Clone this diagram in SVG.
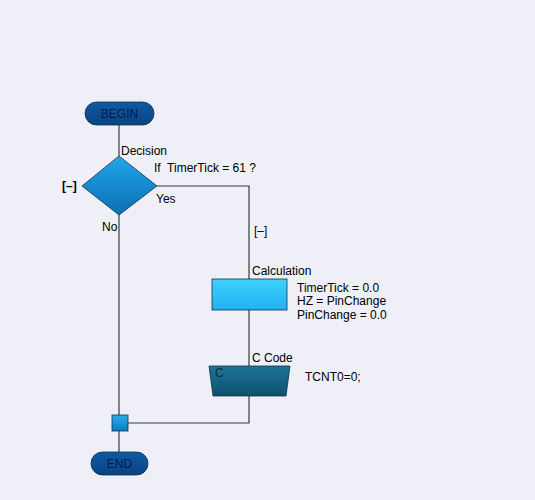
<svg xmlns="http://www.w3.org/2000/svg" width="535" height="500" viewBox="0 0 535 500">
<style>
text{font-family:"Liberation Sans",Arial,sans-serif;font-size:12px;fill:#000}
.term{fill:#001a4d;font-size:12px}
.conn{fill:none;stroke:#3a3a3a;stroke-width:1.2}
.outl{stroke:#15304a;stroke-width:0.8}
</style>
<defs>
<linearGradient id="gTerm" x1="0" y1="0" x2="0" y2="1"><stop offset="0" stop-color="#0e5aa6"/><stop offset="1" stop-color="#0a437f"/></linearGradient>
<linearGradient id="gDia" x1="0" y1="0" x2="0" y2="1"><stop offset="0" stop-color="#22a6ea"/><stop offset="1" stop-color="#0b6fb5"/></linearGradient>
<linearGradient id="gCalc" x1="0" y1="0" x2="0" y2="1"><stop offset="0" stop-color="#40d0fc"/><stop offset="1" stop-color="#1fb2ef"/></linearGradient>
<linearGradient id="gC" x1="0" y1="0" x2="0" y2="1"><stop offset="0" stop-color="#1d7496"/><stop offset="1" stop-color="#0c5270"/></linearGradient>
<linearGradient id="gJ" x1="0" y1="0" x2="0" y2="1"><stop offset="0" stop-color="#28acee"/><stop offset="1" stop-color="#0c7cc4"/></linearGradient>
</defs>
<rect width="535" height="500" fill="#eeeff7"/>
<g id="connectors">
<path class="conn" d="M119 125 V156"/>
<path class="conn" d="M119 215 V415"/>
<path class="conn" d="M119 431 V452"/>
<path class="conn" d="M157 186 H249 V279"/>
<path class="conn" d="M249 310 V366"/>
<path class="conn" d="M249 396 V423 H128"/>
</g>
<g id="begin">
<rect x="85" y="102" width="69" height="23" rx="11.5" fill="url(#gTerm)" class="outl"/>
<text class="term" x="119.5" y="118" text-anchor="middle">BEGIN</text>
</g>
<g id="decision">
<polygon points="119,156 157,186 119,215 82,186" fill="url(#gDia)" class="outl"/>
<text x="121" y="155">Decision</text>
<text x="154" y="172">If&#160; TimerTick = 61 ?</text>
<text x="62" y="190" font-weight="bold">[–]</text>
<text x="156" y="203">Yes</text>
<text x="102" y="231">No</text>
</g>
<g id="branch-label">
<text x="254" y="235">[–]</text>
</g>
<g id="calculation">
<rect x="212" y="279" width="75" height="31" fill="url(#gCalc)" class="outl"/>
<text x="252" y="275">Calculation</text>
<text x="297" y="292">TimerTick = 0.0</text>
<text x="297" y="305">HZ = PinChange</text>
<text x="297" y="319">PinChange = 0.0</text>
</g>
<g id="ccode">
<polygon points="209,366 290,366 286,396 213,396" fill="url(#gC)" class="outl"/>
<text x="252" y="362">C Code</text>
<text x="215" y="377" style="fill:#0a2a4a">C</text>
<text x="305" y="381">TCNT0=0;</text>
</g>
<g id="junction">
<rect x="112" y="415" width="16" height="16" fill="url(#gJ)" class="outl"/>
</g>
<g id="end">
<rect x="91" y="452" width="57" height="23" rx="11.5" fill="url(#gTerm)" class="outl"/>
<text class="term" x="119.5" y="468" text-anchor="middle">END</text>
</g>
</svg>
